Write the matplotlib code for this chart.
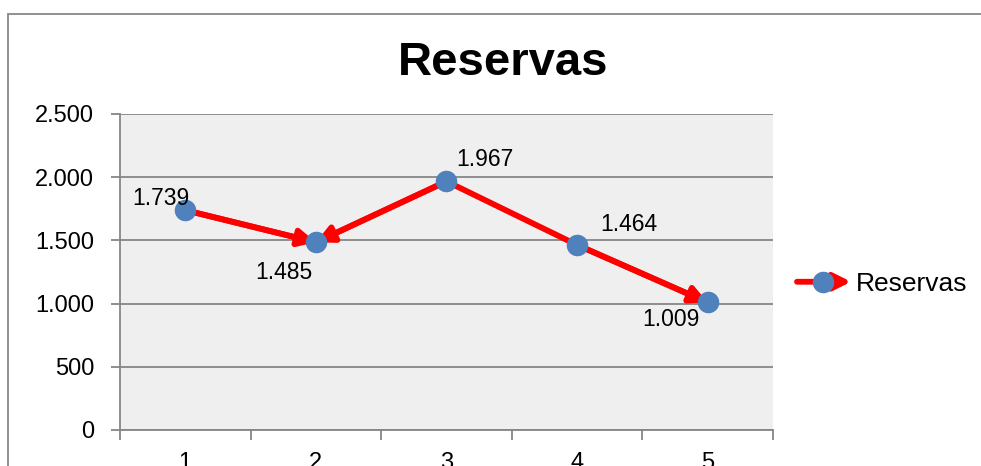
import matplotlib
matplotlib.use('Agg')
import matplotlib.pyplot as plt
from matplotlib.patches import Rectangle, FancyArrowPatch
from matplotlib.lines import Line2D
from matplotlib.legend_handler import HandlerBase
from matplotlib.ticker import FuncFormatter, FixedLocator

plt.rcParams['font.family'] = ['Liberation Sans', 'DejaVu Sans']

categories = [1, 2, 3, 4, 5]
reservas = [1739, 1485, 1967, 1464, 1009]
y_ticks = [0, 500, 1000, 1500, 2000, 2500]

RED = '#FF0000'
BLUE = '#4F81BD'
GRAY = '#868686'
ARROW = '-|>,head_length=10,head_width=5'
LW = 4.2

# pixel offsets of the data labels from their points
label_offsets = [(-24, 12), (-32, -30), (38, 22), (52, 20), (-37, -17)]
# (from, to) index pairs of the segments that carry an arrowhead
arrow_segments = [(0, 1), (2, 1), (3, 4)]


def dot_thousands(v, pos=None):
    return f'{v:,.0f}'.replace(',', '.')


class ArrowHandler(HandlerBase):
    def create_artists(self, legend, orig, xd, yd, width, height, fontsize, trans):
        y = height / 2 - yd
        x0, x1 = -xd, -xd + width
        arr = FancyArrowPatch((x0, y), (x1, y), arrowstyle=ARROW, color=RED,
                              lw=LW, mutation_scale=1, shrinkA=0, shrinkB=0,
                              transform=trans)
        mk = Line2D([(x0 + x1) / 2 - 1], [y], marker='o', ms=14.5, color=BLUE,
                    ls='none', transform=trans)
        return [arr, mk]


fig = plt.figure(figsize=(9.81, 4.66), dpi=100)
ax = fig.add_axes([120 / 981, 1 - 430 / 466, 653 / 981, 316 / 466])
ax.set_facecolor('#EFEFEF')

# outer chart border (cut off at right and bottom)
fig.patches.append(Rectangle((8 / 981, -0.5), 2, 0.5 + 1 - 14 / 466,
                             transform=fig.transFigure, fill=False,
                             edgecolor='#888888', lw=1.3))

ax.plot(categories, reservas, color=RED, lw=LW, solid_capstyle='butt', zorder=3)
for a, b in arrow_segments:
    ax.annotate('', xy=(categories[b], reservas[b]),
                xytext=(categories[a], reservas[a]),
                arrowprops=dict(arrowstyle=ARROW, color=RED, lw=LW,
                                mutation_scale=1, shrinkA=0, shrinkB=0),
                zorder=3)
ax.plot(categories, reservas, ls='none', marker='o', ms=14.5, color=BLUE, zorder=5)

for x, y, (dx, dy) in zip(categories, reservas, label_offsets):
    ax.annotate(dot_thousands(y), (x, y), xytext=(dx, dy),
                textcoords='offset pixels', ha='center', va='center',
                fontsize=16.5, zorder=6)

ax.set_xlim(0.5, 5.5)
ax.set_ylim(0, 2500)
ax.yaxis.set_major_locator(FixedLocator(y_ticks))
ax.yaxis.set_major_formatter(FuncFormatter(dot_thousands))
ax.xaxis.set_major_locator(FixedLocator([c - 0.5 for c in categories] + [5.5]))
ax.xaxis.set_major_formatter(FuncFormatter(lambda v, p: ''))
ax.xaxis.set_minor_locator(FixedLocator(categories))
ax.xaxis.set_minor_formatter(FuncFormatter(lambda v, p: str(int(v))))
ax.tick_params(axis='x', which='major', length=7, width=1.3, color=GRAY)
ax.tick_params(axis='x', which='minor', length=0, pad=16, labelsize=17)
ax.tick_params(axis='y', length=6.5, width=1.3, color=GRAY, labelsize=17, pad=12)

ax.grid(axis='y', color=GRAY, lw=1.3)
ax.set_axisbelow(True)
for s in ['top', 'right']:
    ax.spines[s].set_visible(False)
for s in ['left', 'bottom']:
    ax.spines[s].set_color(GRAY)
    ax.spines[s].set_linewidth(1.3)

fig.text(503 / 981, 1 - 63 / 466, 'Reservas', ha='center', va='center',
         fontsize=34, weight='bold')

proxy = Line2D([], [])
fig.legend(handles=[proxy], labels=['Reservas'], handler_map={proxy: ArrowHandler()},
           loc='center left', bbox_to_anchor=(797 / 981, 1 - 284 / 466),
           frameon=False, fontsize=19, borderpad=0, borderaxespad=0,
           handlelength=2.05, handletextpad=0.2)

fig.savefig('out.png', dpi=100)
